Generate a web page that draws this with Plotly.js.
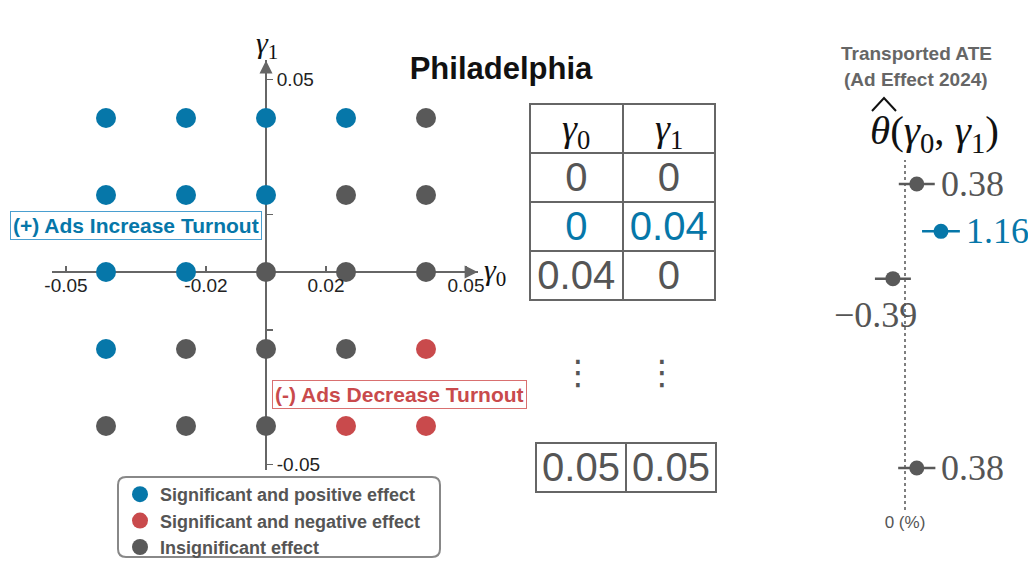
<!DOCTYPE html>
<html><head><meta charset="utf-8">
<script src="https://cdn.plot.ly/plotly-3.0.1.min.js"></script>
<style>html,body{margin:0;padding:0;background:#fff;} #chart{width:1028px;height:582px;}</style>
</head><body><div id="chart"></div>
<script>
// ---------------- data ----------------
const gamma0Grid = [-0.04, -0.02, 0, 0.02, 0.04];
const gamma1Grid = [0.04, 0.02, 0, -0.02, -0.04];
// effect per grid cell: rows follow gamma1Grid, columns follow gamma0Grid
const effectGrid = [
  ['+', '+', '+', '+', '0'],
  ['+', '+', '+', '0', '0'],
  ['+', '+', '0', '0', '0'],
  ['+', '0', '0', '0', '-'],
  ['0', '0', '0', '-', '-']
];
const effectKeys = ['+', '-', '0'];
const effectNames = ['Significant and positive effect', 'Significant and negative effect', 'Insignificant effect'];
const xTickVals = [-0.05, -0.015, 0.015, 0.05];
const xTickText = ['-0.05', '-0.02', '0.02', '0.05'];
const yTickVals = [-0.05, -0.015, 0.015, 0.05];
const yTickText = ['-0.05', '', '', '0.05'];

const tableHeader = ['<i>γ</i><sub>0</sub>', '<i>γ</i><sub>1</sub>'];
const tableGamma0 = ['0', '0', '0.04'];
const tableGamma1 = ['0', '0.04', '0'];
const tableEffect = ['0', '+', '0'];
const lastGamma0 = '0.05';
const lastGamma1 = '0.05';

const forestRow = [0, 1, 2, 6];
const forestEst = [0.38, 1.16, -0.39, 0.38];
const forestCI = [0.58, 0.61, 0.58, 0.60];
const forestEffect = ['0', '+', '0', '0'];

// ---------------- styling / geometry ----------------
const W = 1028, H = 582;
const px = v => v / W, py = v => 1 - v / H;
const SANS = 'Liberation Sans, Arial, Helvetica, sans-serif';
const SERIF = 'Liberation Serif, Times New Roman, serif';
const COLOR = {'+': '#0677A9', '-': '#C94A4C', '0': '#595959'};
const GREY = '#555555';

const G = {ox: 266, oy: 272, sx: 4000, sy: 3850, left: 52, right: 478, top: 60, bottom: 470};
const xRange = [(G.left - G.ox) / G.sx, (G.right - G.ox) / G.sx];
const yRange = [(G.oy - G.bottom) / G.sy, (G.oy - G.top) / G.sy];

const F = {ox: 905, sx: 31, left: 820, right: 1028, top: 160, bottom: 510, r0: 184, rs: 47.33};
const x2Range = [(F.left - F.ox) / F.sx, (F.right - F.ox) / F.sx];
const y2Range = [(F.bottom - F.r0) / F.rs, (F.top - F.r0) / F.rs];

const T = {left: 530, right: 715, top: 104, row: 49};

const traces = [];
effectKeys.forEach((k, n) => {
  const xs = [], ys = [];
  effectGrid.forEach((row, i) => row.forEach((e, j) => {
    if (e === k) { xs.push(gamma0Grid[j]); ys.push(gamma1Grid[i]); }
  }));
  traces.push({type: 'scatter', mode: 'markers', x: xs, y: ys, name: effectNames[n],
    marker: {size: 20, color: COLOR[k]}, xaxis: 'x', yaxis: 'y', cliponaxis: false});
});

['0', '+'].forEach(k => {
  const idx = forestEffect.map((e, i) => e === k ? i : -1).filter(i => i >= 0);
  traces.push({type: 'scatter', mode: 'markers', x: idx.map(i => forestEst[i]), y: idx.map(i => forestRow[i]),
    error_x: {type: 'data', array: idx.map(i => forestCI[i]), color: COLOR[k], thickness: 2.5, width: 0},
    marker: {size: 15, color: COLOR[k]}, xaxis: 'x2', yaxis: 'y2', showlegend: false, cliponaxis: false});
});

const cellColors = tableEffect.map(e => e === '+' ? COLOR['+'] : GREY);
traces.push({type: 'table', domain: {x: [px(T.left), px(T.right)], y: [py(T.top + 4 * T.row + 6), py(T.top)]},
  columnwidth: [1, 1],
  header: {values: tableHeader.map(() => ''), height: T.row, align: 'center',
    font: {family: SERIF, size: 30, color: '#111'}, line: {color: '#666', width: 2}, fill: {color: 'white'}},
  cells: {values: [tableGamma0, tableGamma1], height: T.row, align: 'center',
    font: {family: SANS, size: 40, color: [cellColors, cellColors]}, line: {color: '#666', width: 2}, fill: {color: 'white'}}
});
traces.push({type: 'table', domain: {x: [px(536), px(717)], y: [py(498), py(443)]},
  columnwidth: [1, 1],
  header: {values: [lastGamma0, lastGamma1], height: T.row, align: 'center',
    font: {family: SANS, size: 40, color: GREY}, line: {color: '#666', width: 2}, fill: {color: 'white'}},
  cells: {values: [[], []], height: T.row}
});

const fmt = v => (v < 0 ? '\u2212' : '') + Math.abs(v).toFixed(2);
const P = (o) => Object.assign({xref: 'paper', yref: 'paper', xanchor: 'center', yanchor: 'middle', showarrow: false}, o);
const colW = (T.right - T.left) / tableHeader.length;
const annotations = [
  {x: xRange[1] - 0.0001, y: 0, ax: xRange[1] - 0.004, ay: 0, xref: 'x', yref: 'y', axref: 'x', ayref: 'y',
    showarrow: true, arrowhead: 2, arrowsize: 1.3, arrowwidth: 2, arrowcolor: '#666', text: ''},
  {x: 0, y: yRange[1] - 0.0001, ax: 0, ay: yRange[1] - 0.004, xref: 'x', yref: 'y', axref: 'x', ayref: 'y',
    showarrow: true, arrowhead: 2, arrowsize: 1.3, arrowwidth: 2, arrowcolor: '#666', text: ''},
  P({x: px(267), y: py(45), text: '<i>γ</i><sub>1</sub>', font: {family: SERIF, size: 30, color: '#111'}}),
  P({x: px(495), y: py(272), text: '<i>γ</i><sub>0</sub>', font: {family: SERIF, size: 30, color: '#111'}}),
  P({x: px(136), y: py(226), text: '<b>(+) Ads Increase Turnout</b>',
    font: {family: SANS, size: 21, color: COLOR['+']}, bordercolor: '#4A9FD0', borderwidth: 1, borderpad: 2, bgcolor: 'white'}),
  P({x: px(399), y: py(394), text: '<b>(-) Ads Decrease Turnout</b>',
    font: {family: SANS, size: 21, color: COLOR['-']}, bordercolor: '#D97070', borderwidth: 1, borderpad: 2, bgcolor: 'white'}),
  P({x: px(578), y: py(372), text: '⋮', font: {family: 'DejaVu Sans', size: 34, color: GREY}}),
  P({x: px(662), y: py(372), text: '⋮', font: {family: 'DejaVu Sans', size: 34, color: GREY}}),
  P({x: px(916), y: py(53), text: '<b>Transported ATE</b>', font: {family: SANS, size: 19, color: '#666'}}),
  P({x: px(916), y: py(80), text: '<b>(Ad Effect 2024)</b>', font: {family: SANS, size: 19, color: '#666'}}),
  P({x: px(868), y: py(133), xanchor: 'left',
    text: '<i>θ</i>(<i>γ</i><sub>0</sub>, <i>γ</i><sub>1</sub>)', font: {family: SERIF, size: 41, color: '#111'}})
];
// table header labels, centred in each header cell
tableHeader.forEach((t, i) => annotations.push(P({x: px(T.left + colW * (i + 0.5)), y: py(T.top + T.row / 2 + 2),
  text: t, font: {family: SERIF, size: 38, color: '#111'}})));

forestEst.forEach((v, i) => {
  const c = forestEffect[i] === '+' ? COLOR['+'] : GREY;
  if (v >= 0) {
    annotations.push({x: v + forestCI[i], y: forestRow[i], xref: 'x2', yref: 'y2', xanchor: 'left', yanchor: 'middle',
      xshift: 4, showarrow: false, text: fmt(v), font: {family: SERIF, size: 36, color: c}});
  } else {
    annotations.push({x: v + forestCI[i], y: forestRow[i], xref: 'x2', yref: 'y2', xanchor: 'right', yanchor: 'middle',
      xshift: 8, yshift: -36, showarrow: false, text: fmt(v), font: {family: SERIF, size: 36, color: c}});
  }
});

const bx0 = px(118), bx1 = px(440), byT = py(477), byB = py(557), rx = 8 / W, ry = 8 / H;
const boxPath = `M ${bx0 + rx},${byT} L ${bx1 - rx},${byT} Q ${bx1},${byT} ${bx1},${byT - ry} L ${bx1},${byB + ry} Q ${bx1},${byB} ${bx1 - rx},${byB} L ${bx0 + rx},${byB} Q ${bx0},${byB} ${bx0},${byB + ry} L ${bx0},${byT - ry} Q ${bx0},${byT} ${bx0 + rx},${byT} Z`;
// circumflex accent over theta
const hatPath = `M ${px(872)},${py(111)} L ${px(884)},${py(98)} L ${px(896)},${py(111)}`;

const shapes = [
  {type: 'line', xref: 'x2', yref: 'y2 domain', x0: 0, x1: 0, y0: 0, y1: 1, line: {color: GREY, width: 1.5, dash: 'dot'}, layer: 'below'},
  {type: 'path', xref: 'paper', yref: 'paper', path: boxPath, line: {color: '#888', width: 2}, fillcolor: 'rgba(0,0,0,0)'},
  {type: 'path', xref: 'paper', yref: 'paper', path: hatPath, line: {color: '#111', width: 2}}
];

const axisFont = {family: SANS, size: 19, color: '#222'};
const layout = {
  width: W, height: H, margin: {l: 0, r: 0, t: 0, b: 0},
  paper_bgcolor: 'white', plot_bgcolor: 'rgba(0,0,0,0)',
  title: {text: '<b>Philadelphia</b>', x: px(501), y: py(68), xanchor: 'center', yanchor: 'middle',
    font: {family: SANS, size: 31, color: '#111'}},
  xaxis: {domain: [px(G.left), px(G.right)], range: xRange, anchor: 'free', position: py(G.oy),
    tickmode: 'array', tickvals: xTickVals, ticktext: xTickText, ticks: 'inside', ticklen: 6, tickwidth: 1.5,
    tickcolor: '#666', showgrid: false, showline: false, zeroline: true, zerolinecolor: '#666', zerolinewidth: 2,
    tickfont: axisFont, fixedrange: true},
  yaxis: {domain: [py(G.bottom), py(G.top)], range: yRange, anchor: 'free', position: px(G.ox), side: 'right',
    tickmode: 'array', tickvals: yTickVals, ticktext: yTickText, ticks: 'outside', ticklen: 6, tickwidth: 1.5,
    tickcolor: '#666', showgrid: false, showline: false, zeroline: true, zerolinecolor: '#666', zerolinewidth: 2,
    tickfont: axisFont, fixedrange: true},
  xaxis2: {domain: [px(F.left), px(F.right)], range: x2Range, anchor: 'y2', tickmode: 'array', tickvals: [0],
    ticktext: ['0 (%)'], ticks: '', showgrid: false, zeroline: false, showline: false,
    tickfont: {family: SANS, size: 17, color: GREY}, fixedrange: true},
  yaxis2: {domain: [py(F.bottom), py(F.top)], range: y2Range, anchor: 'x2', visible: false, fixedrange: true},
  showlegend: true,
  legend: {x: px(120), y: py(476), xanchor: 'left', yanchor: 'top', bgcolor: 'rgba(0,0,0,0)', borderwidth: 0,
    font: {family: SANS, size: 18, color: GREY, weight: 'bold'}, traceorder: 'normal'},
  annotations: annotations,
  shapes: shapes
};

Plotly.newPlot('chart', traces, layout, {displayModeBar: false, staticPlot: true});
</script>
</body></html>
